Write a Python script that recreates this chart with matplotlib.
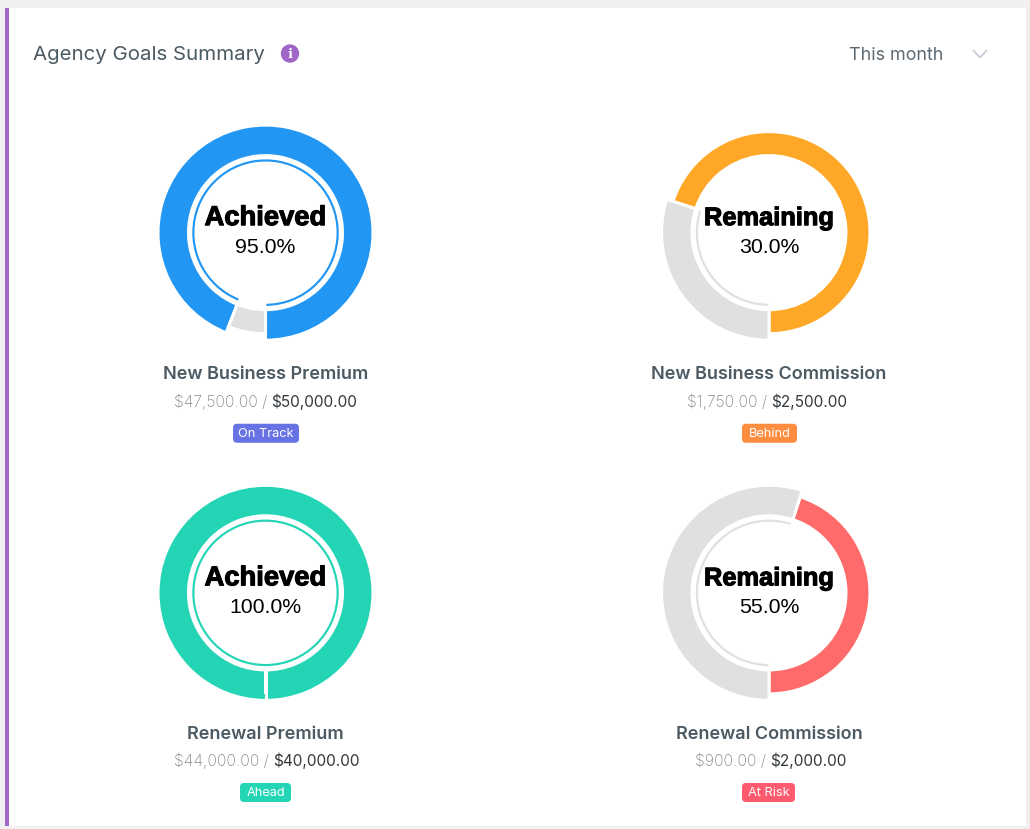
import matplotlib
matplotlib.use('Agg')
import matplotlib.pyplot as plt
from matplotlib.patches import FancyBboxPatch, Rectangle, Circle
import matplotlib.patheffects as pe

W, H = 1030, 829

# data
goal_names = ['New Business Premium', 'New Business Commission', 'Renewal Premium', 'Renewal Commission']
achieved = [95, 70, 100, 45]
remaining = [5, 30, 0, 55]
center_titles = ['Achieved', 'Remaining', 'Achieved', 'Remaining']
center_values = ['95.0%', '30.0%', '100.0%', '55.0%']
current_amounts = ['$47,500.00 /', '$1,750.00 /', '$44,000.00 /', '$900.00 /']
target_amounts = ['$50,000.00', '$2,500.00', '$40,000.00', '$2,000.00']
badge_labels = ['On Track', 'Behind', 'Ahead', 'At Risk']

# styles
ring_colors = ['#2196f3', '#ffa726', '#24d5b5', '#ff6b6b']
badge_colors = ['#6772e5', '#ff8d3f', '#24d5b5', '#ff5a6e']
grey = '#e0e0e0'
centers = [(265.5, 233), (769, 233), (265.5, 593), (769, 593)]
split_x = [267, 767, 269, 766]
badge_boxes = [(233, 299), (742, 797), (240, 291), (742, 795)]
name_y = [374, 374, 734, 734]
amount_y = [401.5, 401.5, 760.5, 760.5]
badge_y = [433.5, 433.5, 792.5, 792.5]
title_sizes = {'Achieved': 19.7, 'Remaining': 18.3}
MIN_ANGLE = 21.5  # the small slice is never drawn thinner than this

UI_FONT = ['Inter', 'DejaVu Sans']
ARIAL = ['Liberation Sans', 'DejaVu Sans']


def py(y):
    # picture y (down) to axes y (up)
    return H - y


# the extra half pixel stops 8.29 * 100 being floored to 828
fig = plt.figure(figsize=(W / 100, (H + 0.5) / 100), dpi=100, facecolor='#f0f0f0')
ax = fig.add_axes([0, 0, 1, 1])

ax.add_patch(Rectangle((5, py(826)), 1021, 818, fc='white', ec='none'))
ax.add_patch(Rectangle((5, py(826)), 4, 818, fc='#a066c8', ec='none'))

# header
ax.text(33, py(55), 'Agency Goals Summary', family=UI_FONT, fontsize=14.75, color='#4b5a63',
        va='center', ha='left')
ax.add_patch(Circle((290, py(54)), 9.2, fc='#a066c8', ec='none'))
ax.text(290, py(54), 'i', family=['DejaVu Serif'], fontsize=9.5, fontweight='bold', color='white',
        va='center', ha='center')
ax.text(849, py(55), 'This month', family=UI_FONT, fontsize=12.9, color='#5d6972', va='center', ha='left')
ax.plot([973.5, 980, 986.5], [py(51), py(58), py(51)], color='#c5ccd5', lw=1.2)

for i, (cx, cy) in enumerate(centers):
    color = ring_colors[i]
    big = 0 if center_titles[i] == 'Achieved' else 1
    center = (cx, py(cy))

    rest_angle = remaining[i] * 3.6
    if 0 < rest_angle < MIN_ANGLE:
        rest_angle = MIN_ANGLE
    slices = [360 - rest_angle, rest_angle]

    # thin ring follows the highlighted slice
    thin, _ = ax.pie(slices, colors=[color, grey], startangle=270, center=center,
                     radius=74, frame=True, wedgeprops=dict(width=3.7, edgecolor='white', linewidth=1.1))
    thin[1 - big].set_visible(False)

    wedges, _ = ax.pie(slices, colors=[color, grey], startangle=270, center=center,
                       radius=101, frame=True, wedgeprops=dict(width=24, edgecolor='white', linewidth=2.2))
    # hovered slice sticks out a bit
    wedges[big].set_radius(107.5)
    wedges[big].set_width(30.5)

    if remaining[i] == 0:
        # a full wedge has no seam, so put it in
        ax.plot([cx, cx], [py(cy + 76), py(cy + 110)], color='white', lw=2.2, solid_capstyle='butt')

    ax.text(cx, py(cy - 14.5), center_titles[i], family=ARIAL, fontsize=title_sizes[center_titles[i]],
            fontweight='bold', color='black', va='center', ha='center',
            path_effects=[pe.withStroke(linewidth=0.8, foreground='black')])
    ax.text(cx, py(cy + 14), center_values[i], family=ARIAL, fontsize=15.3, color='black',
            va='center', ha='center')

    ax.text(cx, py(name_y[i]), goal_names[i], family=UI_FONT, fontsize=13, fontweight='semibold', color='#4b5a63',
            va='center', ha='center')
    ax.text(split_x[i], py(amount_y[i]), current_amounts[i], family=UI_FONT, fontsize=11.3, fontweight='light',
            color='#85898c', va='center', ha='right')
    ax.text(split_x[i] + 4, py(amount_y[i]), target_amounts[i], family=UI_FONT, fontsize=11.1, color='#33393d',
            va='center', ha='left')

    x0, x1 = badge_boxes[i]
    ax.add_patch(FancyBboxPatch((x0 + 4, py(badge_y[i]) - 5.5), x1 - x0 - 8, 11,
                                boxstyle='round,pad=4', fc=badge_colors[i], ec='none'))
    ax.text((x0 + x1) / 2, py(badge_y[i]), badge_labels[i], family=UI_FONT, fontsize=9.2, color='white',
            va='center', ha='center')

ax.set_xlim(0, W)
ax.set_ylim(0, H)
ax.set_aspect('auto')
ax.axis('off')

plt.savefig('out.png', dpi=100, facecolor=fig.get_facecolor())
